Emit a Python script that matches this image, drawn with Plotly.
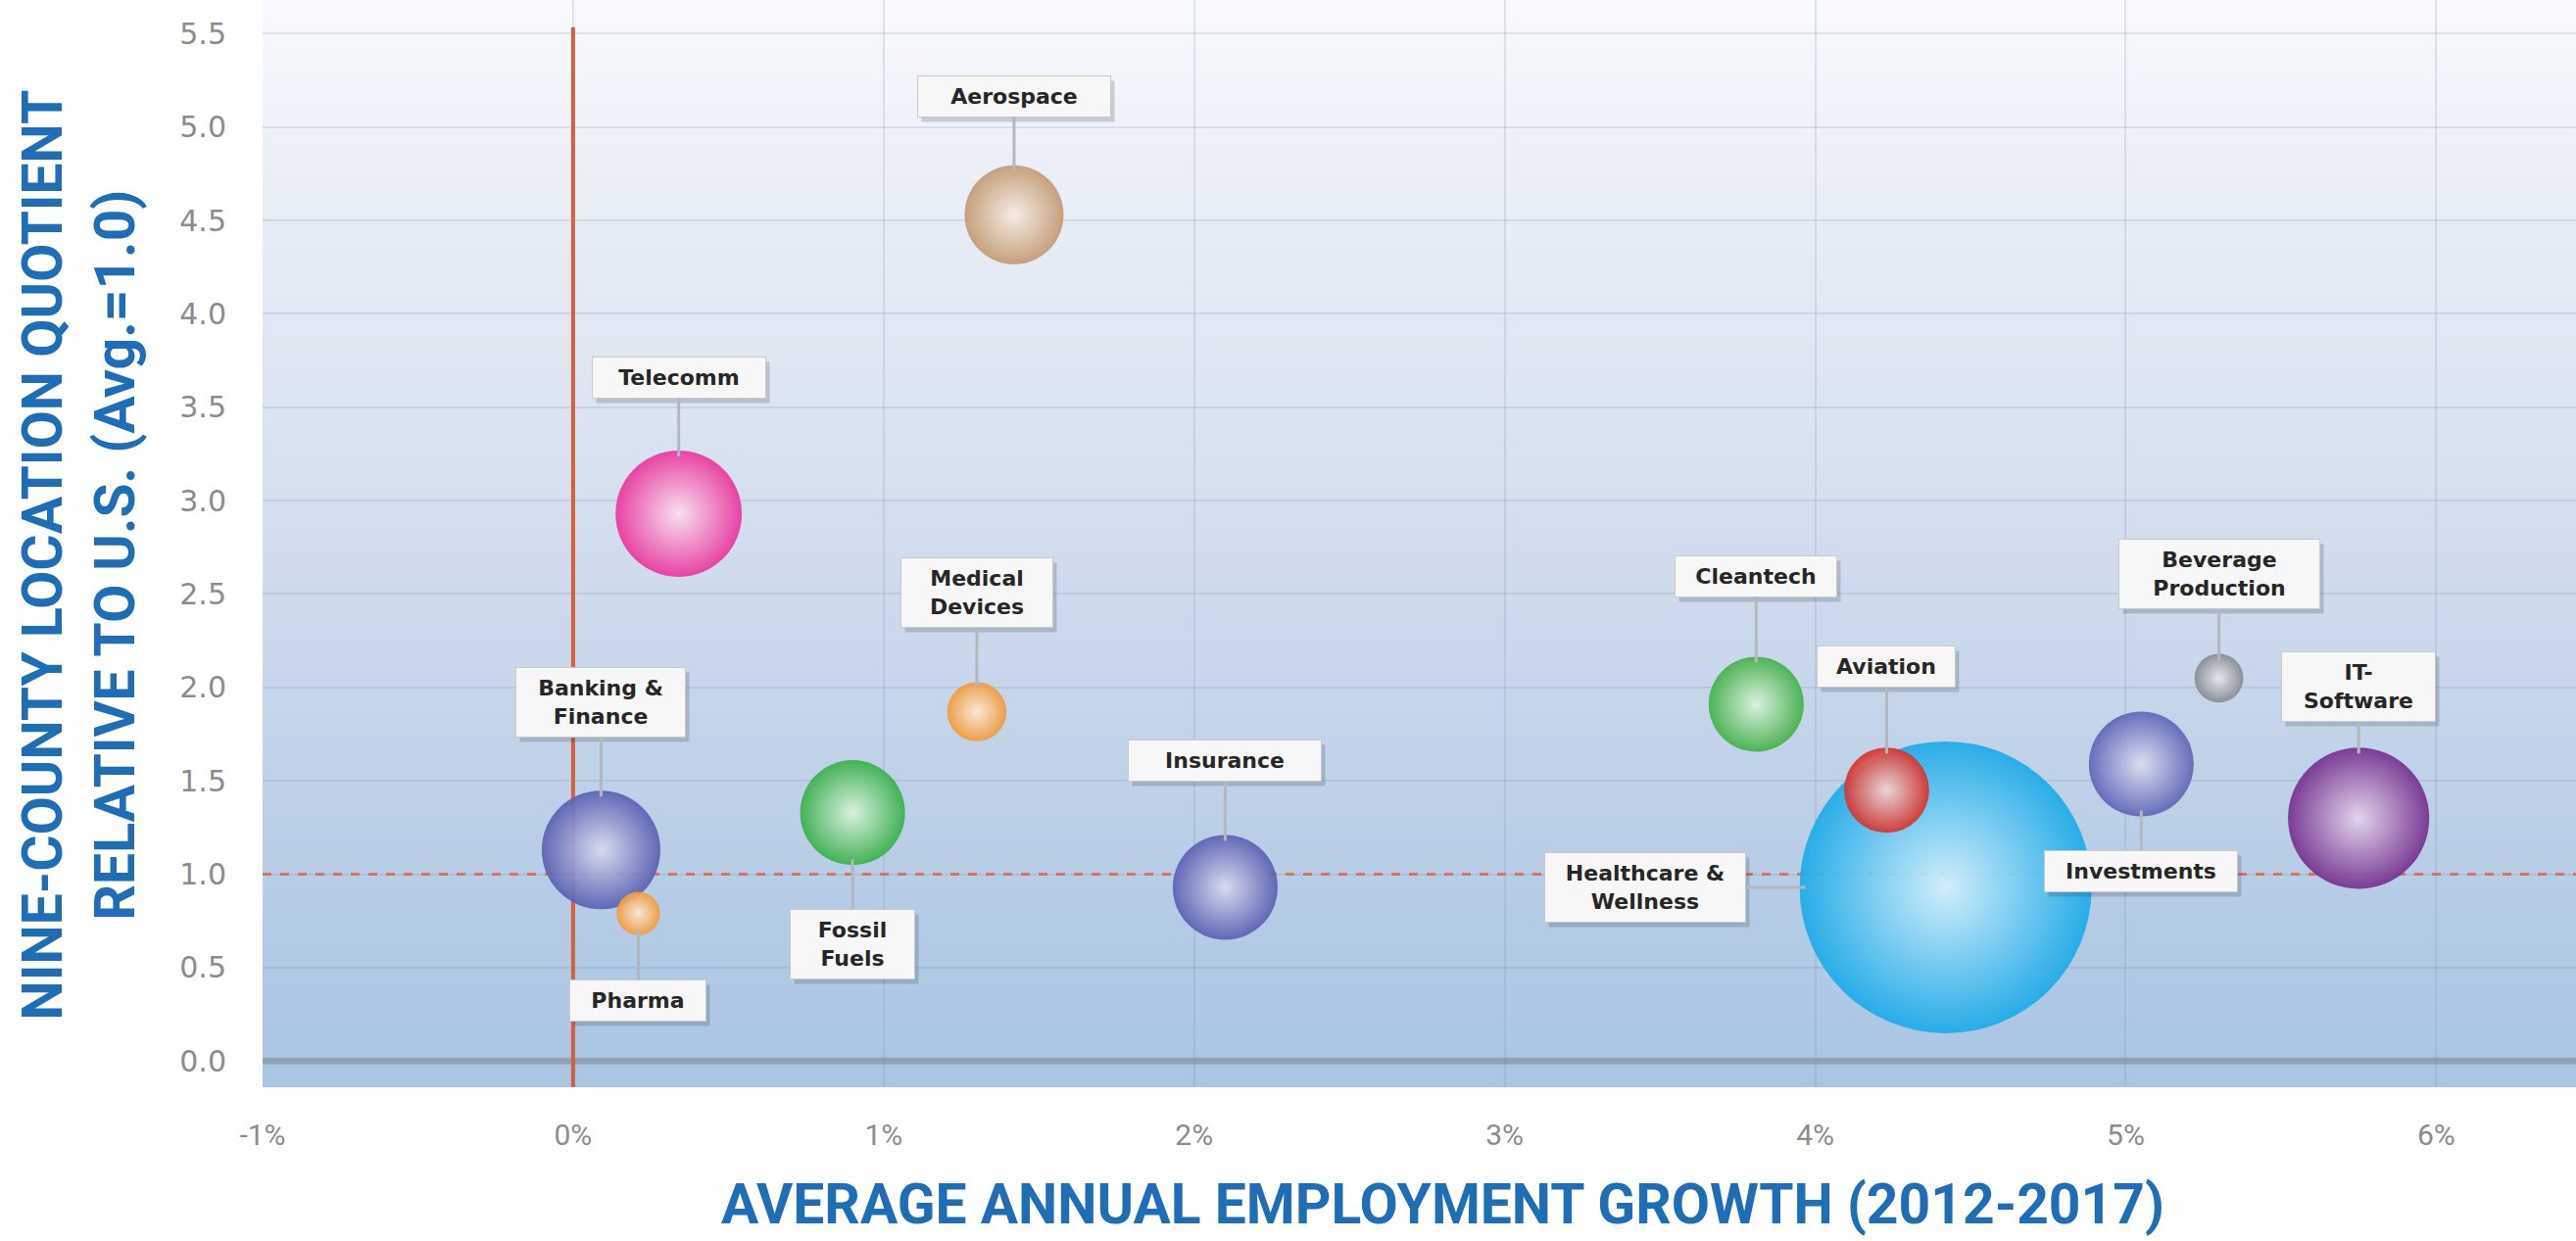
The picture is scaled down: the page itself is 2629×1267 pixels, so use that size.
import plotly.graph_objects as go
import math

# ---------------- data ----------------
industries = ["Aerospace", "Telecomm", "Medical<br>Devices", "Banking &<br>Finance", "Pharma",
              "Fossil<br>Fuels", "Insurance", "Cleantech", "Aviation", "Healthcare &<br>Wellness",
              "Investments", "Beverage<br>Production", "IT-<br>Software"]
emp_growth = [1.42, 0.34, 1.30, 0.09, 0.21, 0.90, 2.10, 3.81, 4.23, 4.42, 5.05, 5.30, 5.75]   # % per year
location_quotient = [4.53, 2.93, 1.87, 1.13, 0.79, 1.33, 0.93, 1.91, 1.45, 0.93, 1.59, 2.05, 1.30]
employment = [11.5, 18.7, 4.1, 16.5, 2.2, 12.9, 12.9, 10.6, 8.5, 100.0, 12.9, 2.8, 23.4]  # relative size

x_ticks = [-1, 0, 1, 2, 3, 4, 5, 6]
x_tick_labels = ["-1%", "0%", "1%", "2%", "3%", "4%", "5%", "6%"]
y_ticks = [0, 0.5, 1, 1.5, 2, 2.5, 3, 3.5, 4, 4.5, 5, 5.5]
y_tick_labels = ["0.0", "0.5", "1.0", "1.5", "2.0", "2.5", "3.0", "3.5", "4.0", "4.5", "5.0", "5.5"]

# ---------------- styles ----------------
base_colors = ["#c49a74", "#e8389e", "#ef9a3e", "#5a60b2", "#ef9a3e", "#39b04c", "#5a60b2",
               "#45b04a", "#d2332e", "#1eaae8", "#5f66b8", "#868b93", "#75318f"]
highlight_colors = ["#f6ece2", "#fbe0ef", "#fde9d2", "#d9dcf0", "#fde9d2", "#dcf3df", "#d9dcf0",
                    "#dcf3df", "#f6d6d4", "#d2f0fc", "#dcdff2", "#e6e7ea", "#e4d4ec"]
# label offsets (pixels) and box widths
label_ax = [0, 0, 0, 0, 0, 0, 0, 0, 0, -307, 0, 0, 0]
label_ay = [-121, -139, -122, -151, 89, 134, -129, -131, -126, 0, 109, -106, -134]
label_w = [170, 150, 128, 146, 112, 100, 170, 138, 114, 178, 170, 178, 130]

W, H = 2629, 1267
x_range = [-1.0, 6.45]
y_range = [-0.14, 5.68]
margin = dict(l=268, r=0, t=0, b=157)

max_d = 298.0
sizeref = 2.0 * max(employment) / (max_d ** 2)

fig = go.Figure()

# background gradient bands
stops = [(0.0, (168, 197, 228)), (0.2, (184, 205, 230)), (0.55, (214, 224, 239)),
         (0.9, (239, 243, 249)), (1.0, (249, 250, 253))]
def interp(p):
    for (p0, c0), (p1, c1) in zip(stops[:-1], stops[1:]):
        if p0 <= p <= p1:
            t = (p - p0) / (p1 - p0)
            return tuple(round(c0[i] + (c1[i] - c0[i]) * t) for i in range(3))
    return stops[-1][1]
n = 90
shapes = []
for i in range(n):
    p0, p1 = i / n, (i + 1) / n
    c = interp((p0 + p1) / 2)
    shapes.append(dict(type="rect", xref="paper", yref="paper", x0=0, x1=1, y0=p0, y1=p1 + 0.002,
                       fillcolor="rgb(%d,%d,%d)" % c, line=dict(width=0), layer="below"))
# zero baseline, reference lines
shapes.append(dict(type="line", xref="paper", yref="y", x0=0, x1=1, y0=0, y1=0,
                   line=dict(color="#95a4b5", width=7), layer="below"))
shapes.append(dict(type="line", xref="paper", yref="y", x0=0, x1=1, y0=1, y1=1,
                   line=dict(color="#e8724e", width=3, dash="dash"), layer="below"))
shapes.append(dict(type="line", xref="x", yref="paper", x0=0, x1=0, y0=0, y1=0.975,
                   line=dict(color="#e4572e", width=4), layer="below"))

# bubbles: draw larger bubbles first so smaller ones sit on top
order = sorted(range(len(industries)), key=lambda k: -employment[k])
fig.add_trace(go.Scatter(
    x=[emp_growth[k] for k in order], y=[location_quotient[k] for k in order], mode="markers",
    text=[industries[k].replace("<br>", " ") for k in order],
    marker=dict(size=[employment[k] for k in order], sizemode="area", sizeref=sizeref,
                color=[base_colors[k] for k in order], opacity=0.93,
                gradient=dict(type="radial", color=[highlight_colors[k] for k in order]),
                line=dict(width=0)),
    hovertemplate="%{text}<br>%{x:.2f}%<br>%{y:.2f}<extra></extra>",
    showlegend=False,
))

annotations = []
for i, name in enumerate(industries):
    r = math.sqrt(employment[i] / 2.0 / sizeref)
    common = dict(x=emp_growth[i], y=location_quotient[i], xref="x", yref="y",
                  text="<b>" + name + "</b>", showarrow=True,
                  ax=label_ax[i], ay=label_ay[i], width=label_w[i] + 10, align="center",
                  borderpad=8, arrowhead=0, standoff=max(r - 6, 0))
    # shadow
    sh = dict(common)
    sh.update(ax=label_ax[i] + 4, ay=label_ay[i] + 5, bgcolor="rgba(40,50,70,0.2)",
              bordercolor="rgba(0,0,0,0)", borderwidth=1,
              font=dict(family="DejaVu Sans", size=22, color="rgba(0,0,0,0)"),
              arrowcolor="rgba(0,0,0,0)", arrowwidth=0.1)
    annotations.append(sh)
    lab = dict(common)
    lab.update(bgcolor="#f7f7f7", bordercolor="#c9c9c9", borderwidth=1,
               font=dict(family="DejaVu Sans", size=22, color="#262626"),
               arrowcolor="#b3b8bf", arrowwidth=3)
    annotations.append(lab)

title_font = dict(family="Liberation Sans Narrow, Roboto, Arial Narrow, sans-serif", size=57, color="#1f6db5")
annotations.append(dict(xref="paper", yref="paper", x=-0.0795, y=0.49, xanchor="center", yanchor="middle",
                        text="<b>NINE-COUNTY LOCATION QUOTIENT<br>RELATIVE TO U.S. (Avg.=1.0)</b>",
                        textangle=-90, showarrow=False, font=title_font))
annotations.append(dict(xref="paper", yref="paper", x=0.51, y=-0.108, xanchor="center", yanchor="middle",
                        text="<b>AVERAGE ANNUAL EMPLOYMENT GROWTH (2012-2017)</b>",
                        showarrow=False, font=title_font))

fig.update_layout(
    width=W, height=H, margin=margin,
    paper_bgcolor="white", plot_bgcolor="rgba(0,0,0,0)",
    shapes=shapes, annotations=annotations,
    xaxis=dict(range=x_range, tickvals=x_ticks, ticktext=x_tick_labels,
               showgrid=True, gridcolor="rgba(120,140,170,0.2)", gridwidth=1.5,
               zeroline=False, showline=False, ticks="outside", ticklen=22, tickcolor="rgba(0,0,0,0)",
               tickfont=dict(family="Liberation Sans Narrow, Roboto, sans-serif", size=30, color="#8c8c8c")),
    yaxis=dict(range=y_range, tickvals=y_ticks, ticktext=y_tick_labels,
               showgrid=True, gridcolor="rgba(120,140,170,0.2)", gridwidth=1.5,
               zeroline=False, showline=False, ticks="outside", ticklen=30, tickcolor="rgba(0,0,0,0)",
               tickfont=dict(family="DejaVu Sans", size=30, color="#8c8c8c")),
    hovermode="closest",
)

fig.write_html("out.html")
